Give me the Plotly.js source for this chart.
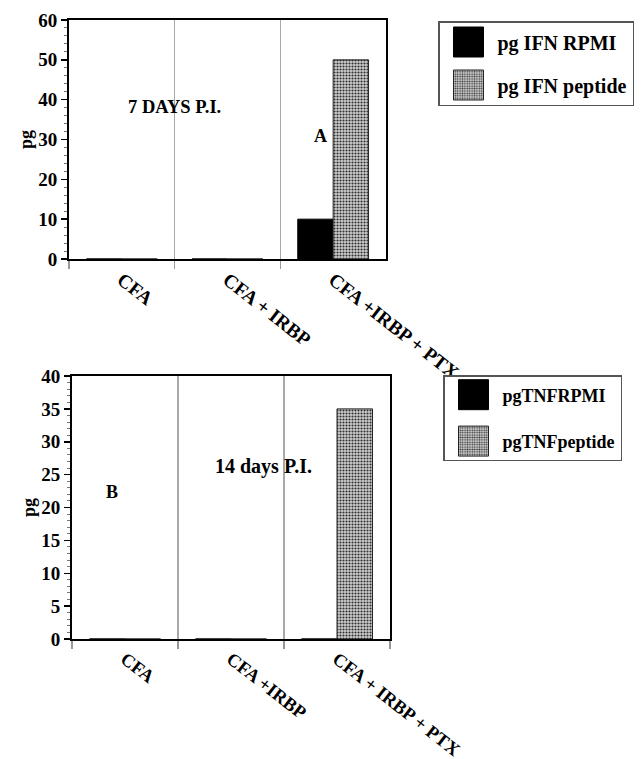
<!DOCTYPE html>
<html><head><meta charset="utf-8">
<script src="https://cdn.plot.ly/plotly-3.0.1.min.js"></script>
<style>html,body{margin:0;padding:0;background:#fff}</style>
</head><body>
<div id="chart" style="width:641px;height:759px"></div>
<script>
// ---- data ----
const categoriesA = ['CFA', 'CFA + IRBP', 'CFA +IRBP + PTX'];
const ifnRpmi = [0, 0, 10];
const ifnPeptide = [0, 0, 50];
const seriesNamesA = ['pg IFN RPMI', 'pg IFN peptide'];
const yRangeA = [0, 60];
const yStepA = 10;

const categoriesB = ['CFA', 'CFA +IRBP', 'CFA + IRBP + PTX'];
const tnfRpmi = [0, 0, 0];
const tnfPeptide = [0, 0, 35];
const seriesNamesB = ['pgTNFRPMI', 'pgTNFpeptide'];
const yRangeB = [0, 40];
const yStepB = 5;

// ---- styles ----
const FONT = '"Liberation Serif", "Times New Roman", serif';
const blackMarker = {color: 'black', line: {color: 'black', width: 1}};
const grayMarker = {
  color: '#c4c4c4',
  pattern: {shape: '.', fgcolor: '#2e2e2e', bgcolor: '#cfcfcf', size: 3, solidity: 0.4},
  line: {color: '#222', width: 1}
};

const data = [
  {type: 'bar', x: categoriesA, y: ifnRpmi, name: seriesNamesA[0], xaxis: 'x', yaxis: 'y',
   marker: blackMarker, legend: 'legend', legendgroup: 'a1'},
  {type: 'bar', x: categoriesA, y: ifnPeptide, name: seriesNamesA[1], xaxis: 'x', yaxis: 'y',
   marker: grayMarker, legend: 'legend', legendgroup: 'a2'},
  {type: 'bar', x: categoriesB, y: tnfRpmi, name: seriesNamesB[0], xaxis: 'x2', yaxis: 'y2',
   marker: blackMarker, legend: 'legend2', legendgroup: 'b1'},
  {type: 'bar', x: categoriesB, y: tnfPeptide, name: seriesNamesB[1], xaxis: 'x2', yaxis: 'y2',
   marker: grayMarker, legend: 'legend2', legendgroup: 'b2'}
];

function xAxis(domain, anchor, size) {
  return {
    domain: domain, anchor: anchor, type: 'category', range: [-0.5, 2.5],
    tickson: 'boundaries', showgrid: true, gridcolor: '#a8a8a8', gridwidth: 1.5,
    ticks: 'outside', ticklen: 8, tickcolor: '#999', tickwidth: 1.5,
    showline: true, linecolor: 'black', linewidth: 2, mirror: true,
    tickangle: 38, tickfont: {family: FONT, size: size, weight: 700, color: 'black'},
    fixedrange: true
  };
}
function yAxis(domain, anchor, range, step, minorStep) {
  return {
    domain: domain, anchor: anchor, range: range, tick0: 0, dtick: step,
    ticks: 'outside', ticklen: 6, tickwidth: 1.5, tickcolor: 'black',
    showline: true, linecolor: 'black', linewidth: 2, mirror: true,
    showgrid: false, zeroline: false,
    tickfont: {family: FONT, size: 19, weight: 700, color: 'black'},
    title: {text: 'pg', font: {family: FONT, size: 18, weight: 700, color: 'black'}, standoff: 1},
    minor: {ticks: 'outside', ticklen: 3, dtick: minorStep, tickcolor: '#777', tickwidth: 1, showgrid: false},
    fixedrange: true
  };
}
function legendBox(x, y, size, gap) {
  return {
    x: x, y: y, xanchor: 'left', yanchor: 'top',
    bordercolor: '#555', borderwidth: 1.5, bgcolor: 'white',
    font: {family: FONT, size: size, weight: 700, color: 'black'},
    itemwidth: 48, traceorder: 'grouped', tracegroupgap: gap
  };
}
function note(text, px, py, size) {
  return {text: text, x: px / 641, y: 1 - py / 759, xref: 'paper', yref: 'paper',
          showarrow: false, xanchor: 'center', yanchor: 'middle',
          font: {family: FONT, size: size, weight: 700, color: 'black'}};
}

const layout = {
  width: 641, height: 759, autosize: false,
  margin: {l: 0, r: 0, t: 0, b: 0},
  paper_bgcolor: 'white', plot_bgcolor: 'white',
  font: {family: FONT, size: 18, color: 'black', weight: 700},
  barmode: 'group', bargap: 0.33, bargroupgap: 0,
  xaxis: xAxis([69 / 641, 386 / 641], 'y', 19.5),
  yaxis: yAxis([1 - 259 / 759, 1 - 20 / 759], 'x', yRangeA, yStepA, 2),
  xaxis2: xAxis([72 / 641, 390 / 641], 'y2', 18.5),
  yaxis2: yAxis([1 - 639 / 759, 1 - 376 / 759], 'x2', yRangeB, yStepB, 1),
  legend: legendBox(438 / 641, 1 - 21 / 759, 20, 14),
  legend2: legendBox(443 / 641, 1 - 375 / 759, 18, 20),
  annotations: [
    note('7 DAYS P.I.', 174, 107, 18.5),
    note('A', 320, 136, 18),
    note('14 days P.I.', 263, 466, 20),
    note('B', 112, 492, 18)
  ],
  showlegend: true
};

Plotly.newPlot('chart', data, layout, {staticPlot: true, displayModeBar: false}).then(function (gd) {
  gd.querySelectorAll('.legendpoints path').forEach(function (p) {
    p.setAttribute('d', 'M15,15H-15V-15H15Z');
  });
});
</script>
</body></html>
